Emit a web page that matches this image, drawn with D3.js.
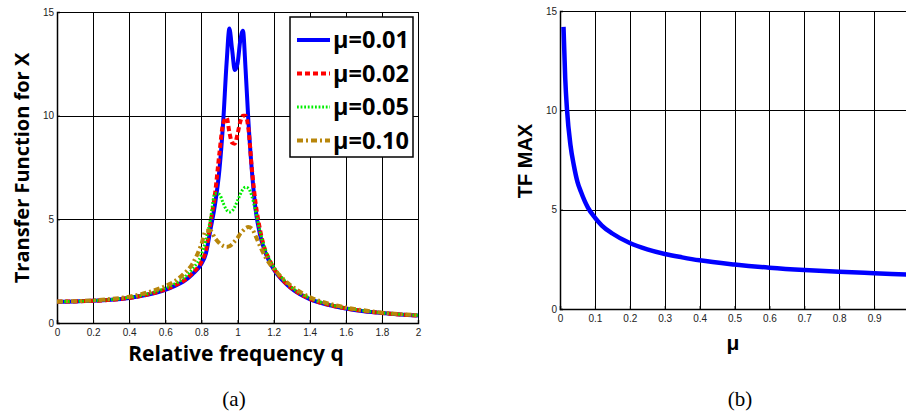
<!DOCTYPE html>
<html>
<head>
<meta charset="utf-8">
<script src="https://cdn.jsdelivr.net/npm/d3@7"></script>
<style>
  body { margin: 0; background: #fff; }
  .tick text { font-family: "Liberation Sans", Arial, sans-serif; font-size: 10px; fill: #222; }
</style>
</head>
<body>
<div id="plot"></div>
<script>
// Data
var q = [0, 0.1, 0.2, 0.3, 0.4, 0.5, 0.6, 0.65, 0.7, 0.75, 0.8, 0.825, 0.85, 0.875, 0.9, 0.92, 0.94, 0.955, 0.97, 0.985,
         1.0, 1.015, 1.03, 1.045, 1.06, 1.08, 1.1, 1.125, 1.15, 1.175, 1.2, 1.25, 1.3, 1.4, 1.5, 1.6, 1.7, 1.8, 1.9, 2.0];
var tf001 = [1.03, 1.04, 1.07, 1.12, 1.21, 1.36, 1.6, 1.78, 2.0, 2.35, 2.85, 3.35, 4.5, 5.7, 7.4, 9.6, 12.6, 14.2, 13.2, 12.2,
             12.5, 13.6, 14.1, 12.2, 9.8, 7.3, 5.5, 4.25, 3.5, 3.0, 2.6, 2.05, 1.65, 1.15, 0.88, 0.7, 0.57, 0.48, 0.41, 0.36];
var tf002 = [1.03, 1.04, 1.07, 1.12, 1.21, 1.37, 1.62, 1.8, 2.03, 2.4, 2.95, 3.5, 4.8, 6.2, 8.2, 9.6, 9.9, 9.2, 8.7, 8.65,
             9.1, 9.7, 10.0, 10.0, 9.4, 7.4, 5.8, 4.5, 3.6, 3.08, 2.66, 2.08, 1.68, 1.17, 0.89, 0.71, 0.58, 0.48, 0.41, 0.36];
var tf005 = [1.03, 1.04, 1.08, 1.13, 1.23, 1.4, 1.68, 1.88, 2.15, 2.6, 3.3, 4.0, 5.0, 6.25, 6.2, 5.8, 5.45, 5.35, 5.4, 5.6,
             5.9, 6.2, 6.45, 6.55, 6.5, 6.1, 5.4, 4.4, 3.65, 3.1, 2.72, 2.15, 1.72, 1.2, 0.91, 0.72, 0.59, 0.49, 0.42, 0.37];
var tf010 = [1.04, 1.05, 1.09, 1.16, 1.27, 1.47, 1.78, 2.0, 2.35, 2.85, 3.8, 4.45, 4.45, 4.1, 3.85, 3.72, 3.67, 3.7, 3.8, 3.95,
             4.1, 4.3, 4.45, 4.58, 4.63, 4.55, 4.2, 3.7, 3.25, 2.9, 2.62, 2.15, 1.78, 1.25, 0.95, 0.75, 0.61, 0.5, 0.43, 0.38];
var seriesNames = ["\u03bc=0.01", "\u03bc=0.02", "\u03bc=0.05", "\u03bc=0.10"];

var mu = [0.01, 0.015, 0.02, 0.03, 0.04, 0.05, 0.06, 0.08, 0.1, 0.12, 0.15, 0.2, 0.25, 0.3, 0.35, 0.4, 0.5, 0.6, 0.7, 0.8, 0.9, 1.0];
var tfMax = [14.2, 11.6, 10.05, 8.25, 7.2, 6.4, 5.9, 5.1, 4.6, 4.2, 3.8, 3.32, 3.0, 2.77, 2.6, 2.45, 2.24, 2.08, 1.96, 1.87, 1.8, 1.73];

var qTicks = [0, 0.2, 0.4, 0.6, 0.8, 1, 1.2, 1.4, 1.6, 1.8, 2];
var muTicks = [0, 0.1, 0.2, 0.3, 0.4, 0.5, 0.6, 0.7, 0.8, 0.9];
var yTicks = [0, 5, 10, 15];

var svg = d3.select("div#plot")
    .append("svg")
    .attr("width", 906)
    .attr("height", 415);

svg.append("rect").attr("width", 906).attr("height", 415).attr("fill", "#fff");

// draws a MATLAB-like box with grid, returns the scales
function makeAxes(g, xDomain, xRange, yRange, xTicks) {
    var x = d3.scaleLinear().domain(xDomain).range(xRange);
    var y = d3.scaleLinear().domain([0, 15]).range(yRange);

    // grid
    g.append("g").selectAll("line").data(xTicks.slice(1)).enter().append("line")
        .attr("x1", function (d) { return Math.round(x(d)) + 0.5; })
        .attr("x2", function (d) { return Math.round(x(d)) + 0.5; })
        .attr("y1", yRange[0]).attr("y2", yRange[1])
        .attr("stroke", "#000").attr("stroke-width", 1);
    g.append("g").selectAll("line").data(yTicks.slice(1)).enter().append("line")
        .attr("x1", xRange[0]).attr("x2", xRange[1])
        .attr("y1", function (d) { return Math.round(y(d)) + 0.5; })
        .attr("y2", function (d) { return Math.round(y(d)) + 0.5; })
        .attr("stroke", "#000").attr("stroke-width", 1);

    // axes
    var xAxis = d3.axisBottom(x).tickValues(xTicks).tickSize(-3).tickPadding(6)
        .tickFormat(function (d) { return d3.format("")(d); });
    var yAxis = d3.axisLeft(y).tickValues(yTicks).tickSize(-3).tickPadding(3);

    g.append("g").attr("transform", "translate(0," + yRange[0] + ")").call(xAxis)
        .call(function (s) { s.select(".domain").attr("stroke-width", 1.5); });
    g.append("g").attr("transform", "translate(" + xRange[0] + ",0)").call(yAxis)
        .call(function (s) { s.select(".domain").attr("stroke-width", 1.5); });

    // top and right border
    g.append("line").attr("x1", xRange[0]).attr("x2", xRange[1])
        .attr("y1", yRange[1] + 0.5).attr("y2", yRange[1] + 0.5).attr("stroke", "#000");
    g.append("line").attr("x1", xRange[1] + 0.5).attr("x2", xRange[1] + 0.5)
        .attr("y1", yRange[0]).attr("y2", yRange[1]).attr("stroke", "#000");
    return { x: x, y: y };
}

// ---- panel (a)
var ga = svg.append("g");
var A = makeAxes(ga, [0, 2], [57, 418], [323, 12], qTicks);

var styles = [
    { color: "#0000ff", dash: null, width: 4 },
    { color: "#ff0000", dash: "5,3", width: 4 },
    { color: "#00ee00", dash: "1.8,1.8", width: 3 },
    { color: "#b8860b", dash: "6,3,2,3", width: 4 }
];
var allSeries = [tf001, tf002, tf005, tf010];

var lineA = d3.line()
    .x(function (d) { return A.x(d[0]); })
    .y(function (d) { return A.y(d[1]); })
    .curve(d3.curveMonotoneX);

allSeries.forEach(function (vals, i) {
    ga.append("path")
        .datum(q.map(function (d, k) { return [d, vals[k]]; }))
        .attr("d", lineA)
        .attr("fill", "none")
        .attr("stroke", styles[i].color)
        .attr("stroke-width", styles[i].width)
        .attr("stroke-dasharray", styles[i].dash);
});

// legend
var leg = ga.append("g").attr("transform", "translate(290,17)");
leg.append("rect").attr("width", 123).attr("height", 140)
    .attr("fill", "#fff").attr("stroke", "#000").attr("stroke-width", 1.5);
seriesNames.forEach(function (name, i) {
    var yy = 23 + i * 33.5;
    leg.append("line").attr("x1", 7).attr("x2", 40).attr("y1", yy).attr("y2", yy)
        .attr("stroke", styles[i].color).attr("stroke-width", styles[i].width)
        .attr("stroke-dasharray", styles[i].dash);
    leg.append("text").attr("x", 43).attr("y", yy + 8)
        .style("font-family", "'Open Sans', sans-serif").style("font-weight", "bold")
        .style("font-size", "23.5px").text(name);
});

// axis labels
ga.append("text")
    .attr("transform", "translate(29,168) rotate(-90)")
    .style("text-anchor", "middle")
    .style("font-family", "'Open Sans', sans-serif").style("font-weight", "bold").style("font-size", "20px")
    .text("Transfer Function for X");
ga.append("text")
    .attr("x", 236).attr("y", 361)
    .style("text-anchor", "middle")
    .style("font-family", "'Open Sans', sans-serif").style("font-weight", "bold").style("font-size", "21px")
    .text("Relative frequency q");

// ---- panel (b)
var gb = svg.append("g");
var B = makeAxes(gb, [0, 1], [560, 909], [309, 11], muTicks.concat([1]));

gb.append("path")
    .datum(mu.map(function (d, k) { return [d, tfMax[k]]; }))
    .attr("d", d3.line()
        .x(function (d) { return B.x(d[0]); })
        .y(function (d) { return B.y(d[1]); })
        .curve(d3.curveMonotoneX))
    .attr("fill", "none")
    .attr("stroke", "#0000ff")
    .attr("stroke-width", 4.5);

// the clipped "1" tick label is not visible in the picture
gb.selectAll(".tick text").filter(function (d) { return d === 1; }).remove();

gb.append("text")
    .attr("transform", "translate(532,161) rotate(-90)")
    .style("text-anchor", "middle")
    .style("font-family", "'Liberation Sans', Arial, sans-serif").style("font-weight", "bold").style("font-size", "20px")
    .text("TF MAX");
gb.append("text")
    .attr("x", 733).attr("y", 350)
    .style("text-anchor", "middle")
    .style("font-family", "'Liberation Sans', Arial, sans-serif").style("font-weight", "bold").style("font-size", "21px")
    .text("\u03bc");

// captions
svg.append("text").attr("x", 234).attr("y", 406).style("text-anchor", "middle")
    .style("font-family", "'Liberation Serif', 'Times New Roman', serif").style("font-size", "21px").text("(a)");
svg.append("text").attr("x", 740).attr("y", 406).style("text-anchor", "middle")
    .style("font-family", "'Liberation Serif', 'Times New Roman', serif").style("font-size", "21px").text("(b)");
</script>
</body>
</html>
